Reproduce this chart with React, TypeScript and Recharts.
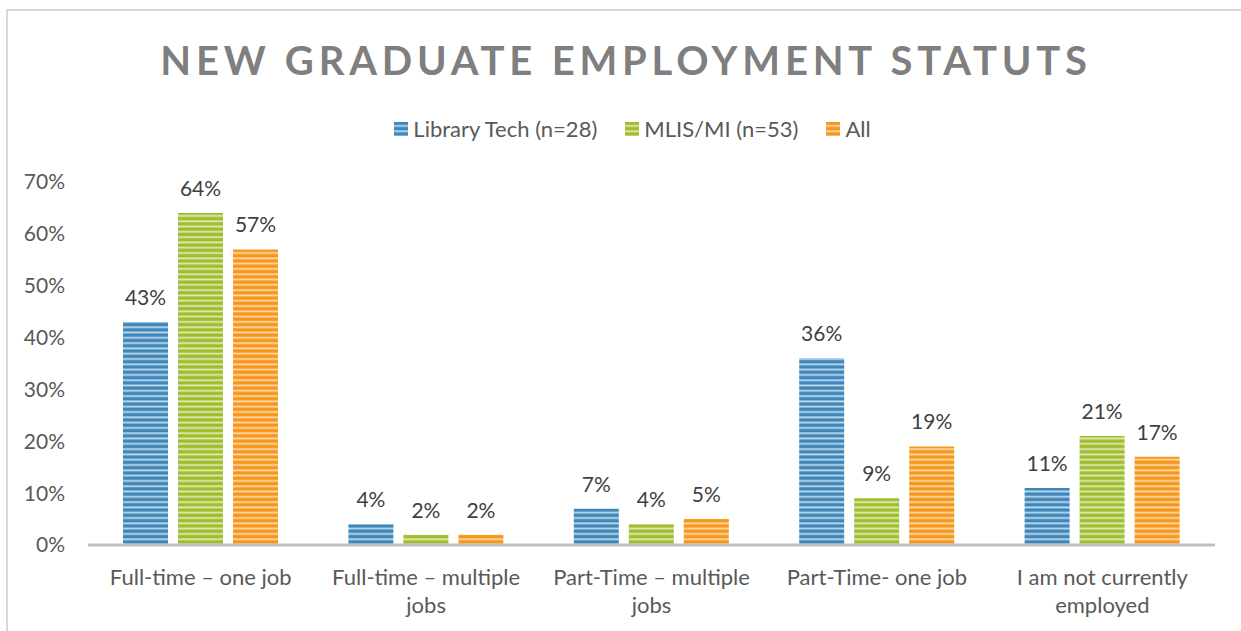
import React from 'react';
import { BarChart, Bar, XAxis, YAxis, LabelList } from 'recharts';

const categories = [
  'Full-time – one job',
  'Full-time – multiple jobs',
  'Part-Time – multiple jobs',
  'Part-Time- one job',
  'I am not currently employed',
];
const libraryTech = [43, 4, 7, 36, 11];
const mlis = [64, 2, 4, 9, 21];
const all = [57, 2, 5, 19, 17];
const yTicks = [0, 10, 20, 30, 40, 50, 60, 70];

const seriesNames = ['Library Tech (n=28)', 'MLIS/MI (n=53)', 'All'];
const seriesKeys = ['lt', 'mlis', 'all'];
const seriesColors = ['#3f87ba', '#9fbd2f', '#f7961b'];
const seriesLight = ['#d6e8f4', '#eaf2cc', '#fee5c0'];

const data = categories.map((c, i) => ({ name: c, lt: libraryTech[i], mlis: mlis[i], all: all[i] }));

const FONT = 'Lato, "Open Sans", sans-serif';

function wrap(text: string, max: number): string[] {
  const words = text.split(' ');
  const lines: string[] = [];
  let cur = '';
  for (const w of words) {
    const t = cur ? cur + ' ' + w : w;
    if (t.length > max && cur) {
      lines.push(cur);
      cur = w;
    } else cur = t;
  }
  if (cur) lines.push(cur);
  return lines;
}

const XTick = (props: any) => {
  const { x, y, payload } = props;
  const lines = wrap(payload.value, 20);
  return (
    <g transform={`translate(${x},${y})`}>
      {lines.map((l, i) => (
        <text key={i} x={0} y={0} dy={32 + i * 28} textAnchor="middle" fill="#595959" fontSize={22} fontFamily={FONT}>
          {l}
        </text>
      ))}
    </g>
  );
};

const LegendBox = () => (
  <div style={{ position: 'absolute', top: 115, left: 0, width: 1241, display: 'flex', justifyContent: 'center', fontFamily: FONT, fontSize: 22, color: '#595959' }}>
    <div style={{ display: 'flex', marginLeft: 24 }}>
      {seriesNames.map((n, i) => (
        <div key={n} style={{ display: 'flex', alignItems: 'center', marginRight: i < 2 ? 28 : 0 }}>
          <svg width={14} height={14} style={{ marginRight: 5 }}>
            <rect x={0} y={0} width={14} height={14} fill={`url(#stripe${i})`} />
          </svg>
          <span>{n}</span>
        </div>
      ))}
    </div>
  </div>
);

export default function App() {
  return (
    <div style={{ position: 'absolute', left: 0, top: 0, width: 1241, height: 631, overflow: 'hidden', background: '#fff' }}>
      <div style={{ position: 'absolute', left: 6, top: 9, width: 1300, height: 700, borderLeft: '2px solid #d9d9d9', borderTop: '2px solid #d9d9d9' }} />
      <div style={{ position: 'absolute', left: 0, top: 36, width: 1252, textAlign: 'center', fontFamily: FONT, fontWeight: 700, fontSize: 40, letterSpacing: 4.8, color: '#7f7f7f' }}>
        NEW GRADUATE EMPLOYMENT STATUTS
      </div>
      <div style={{ position: 'absolute', left: 0, top: 0 }}>
        <BarChart width={1241} height={631} data={data} margin={{ top: 182, right: 26, bottom: 0, left: 0 }} barSize={45} barGap={10}>
          <defs>
            {seriesColors.map((c, i) => (
              <pattern key={i} id={`stripe${i}`} patternUnits="userSpaceOnUse" width={10} height={5.3}>
                <rect x={0} y={0} width={10} height={5.3} fill={c} />
                <rect x={0} y={3} width={10} height={1.8} fill={seriesLight[i]} opacity={0.85} />
              </pattern>
            ))}
          </defs>
          <XAxis dataKey="name" height={86} axisLine={{ stroke: '#bfbfbf', strokeWidth: 3 }} tickLine={false} tick={<XTick />} interval={0} />
          <YAxis
            width={88}
            domain={[0, 70]}
            ticks={yTicks}
            axisLine={false}
            tickLine={false}
            tickSize={0}
            tickMargin={23}
            tickFormatter={(v: number) => `${v}%`}
            tick={{ fill: '#595959', fontSize: 21, fontFamily: FONT }}
          />
          {seriesKeys.map((k, i) => (
            <Bar key={k} dataKey={k} name={seriesNames[i]} fill={`url(#stripe${i})`} isAnimationActive={false}>
              <LabelList dataKey={k} position="top" offset={17} formatter={(v: any) => `${v}%`} fill="#404040" fontSize={21} fontFamily={FONT} />
            </Bar>
          ))}
        </BarChart>
      </div>
      <LegendBox />
    </div>
  );
}
